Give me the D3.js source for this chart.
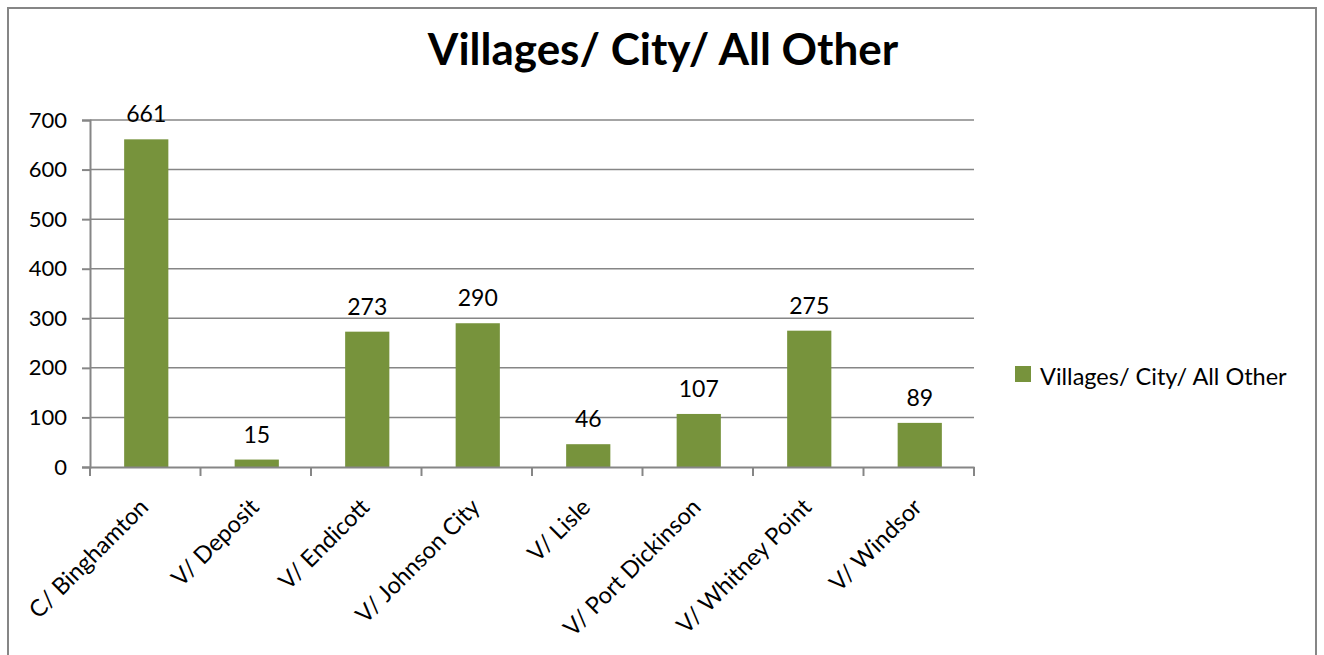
<!DOCTYPE html>
<html lang="en">
<head>
  <meta charset="UTF-8">
  <title>Villages/ City/ All Other</title>
  <script src="https://d3js.org/d3.v7.min.js"></script>
  <style>
    body { margin: 0; background: #fff; }
    text { font-family: Lato, "Open Sans", sans-serif; fill: #000; }
  </style>
</head>
<body>
<svg id="chart" width="1324" height="655"></svg>

<script>
const categories = ["C/ Binghamton", "V/ Deposit", "V/ Endicott", "V/ Johnson City",
                    "V/ Lisle", "V/ Port Dickinson", "V/ Whitney Point", "V/ Windsor"];
const values = [661, 15, 273, 290, 46, 107, 275, 89];
const yTicks = [0, 100, 200, 300, 400, 500, 600, 700];
const seriesName = "Villages/ City/ All Other";

const svg = d3.select("#chart");
const margin = { top: 120, left: 90, right: 350, bottom: 188 };
const innerWidth = 1324 - margin.left - margin.right;
const innerHeight = 655 - margin.top - margin.bottom;
const barColor = "#77933c";
const gray = "#868686";

// outer frame: left, top and right edges (bottom runs past the window)
svg.append("path")
  .attr("d", "M8,655 V8 H1316 V655")
  .attr("fill", "none")
  .attr("stroke", gray)
  .attr("stroke-width", 2);

svg.append("text")
  .attr("x", 663)
  .attr("y", 65)
  .attr("text-anchor", "middle")
  .style("font-size", "44px")
  .style("font-weight", "bold")
  .text(seriesName);

const x = d3.scaleBand().domain(categories).range([0, innerWidth]);
const y = d3.scaleLinear().domain([0, 700]).range([innerHeight, 0]);

const g = svg.append("g").attr("transform", `translate(${margin.left},${margin.top})`);

// gridlines
g.selectAll(".grid")
  .data(yTicks.filter(d => d > 0))
  .join("line")
  .attr("x1", 0).attr("x2", innerWidth)
  .attr("y1", d => y(d)).attr("y2", d => y(d))
  .attr("stroke", gray)
  .attr("stroke-width", 1.5);

// y axis
const yAxis = g.append("g")
  .call(d3.axisLeft(y).tickValues(yTicks).tickSize(8).tickPadding(15));
yAxis.select(".domain").attr("stroke", gray).attr("stroke-width", 2);
yAxis.selectAll(".tick line").attr("stroke", gray).attr("stroke-width", 2);
yAxis.selectAll(".tick text").style("font-size", "22px").style("font-family", "Lato, sans-serif");

// bars
g.selectAll(".bar")
  .data(values)
  .join("rect")
  .attr("x", (d, i) => x(categories[i]) + x.bandwidth() * 0.3 + 1)
  .attr("width", x.bandwidth() * 0.4)
  .attr("y", d => y(d))
  .attr("height", d => innerHeight - y(d))
  .attr("fill", barColor);

// data labels
g.selectAll(".lbl")
  .data(values)
  .join("text")
  .attr("x", (d, i) => x(categories[i]) + x.bandwidth() / 2 + 1)
  .attr("y", d => y(d) - 17)
  .attr("text-anchor", "middle")
  .style("font-size", "23px")
  .text(d => d);

// x axis
const xAxis = g.append("g")
  .attr("transform", `translate(0,${innerHeight})`)
  .call(d3.axisBottom(x).tickSize(0).tickFormat(""));
xAxis.select(".domain").attr("stroke", gray).attr("stroke-width", 2);

g.selectAll(".xtick")
  .data(d3.range(categories.length + 1))
  .join("line")
  .attr("x1", i => i * x.step()).attr("x2", i => i * x.step())
  .attr("y1", innerHeight).attr("y2", innerHeight + 9)
  .attr("stroke", gray)
  .attr("stroke-width", 2);

g.selectAll(".xlbl")
  .data(categories)
  .join("text")
  .attr("transform", d => `translate(${x(d) + x.bandwidth() / 2 - 7},${innerHeight + 30}) rotate(-45)`)
  .attr("text-anchor", "end")
  .attr("dy", "0.7em")
  .style("font-size", "23.5px")
  .text(d => d);

// legend
const legend = svg.append("g").attr("transform", "translate(1015,366)");
legend.append("rect")
  .attr("width", 16).attr("height", 16)
  .attr("fill", barColor);
legend.append("text")
  .attr("x", 25)
  .attr("y", 19)
  .style("font-size", "23.5px")
  .text(seriesName);
</script>
</body>
</html>
